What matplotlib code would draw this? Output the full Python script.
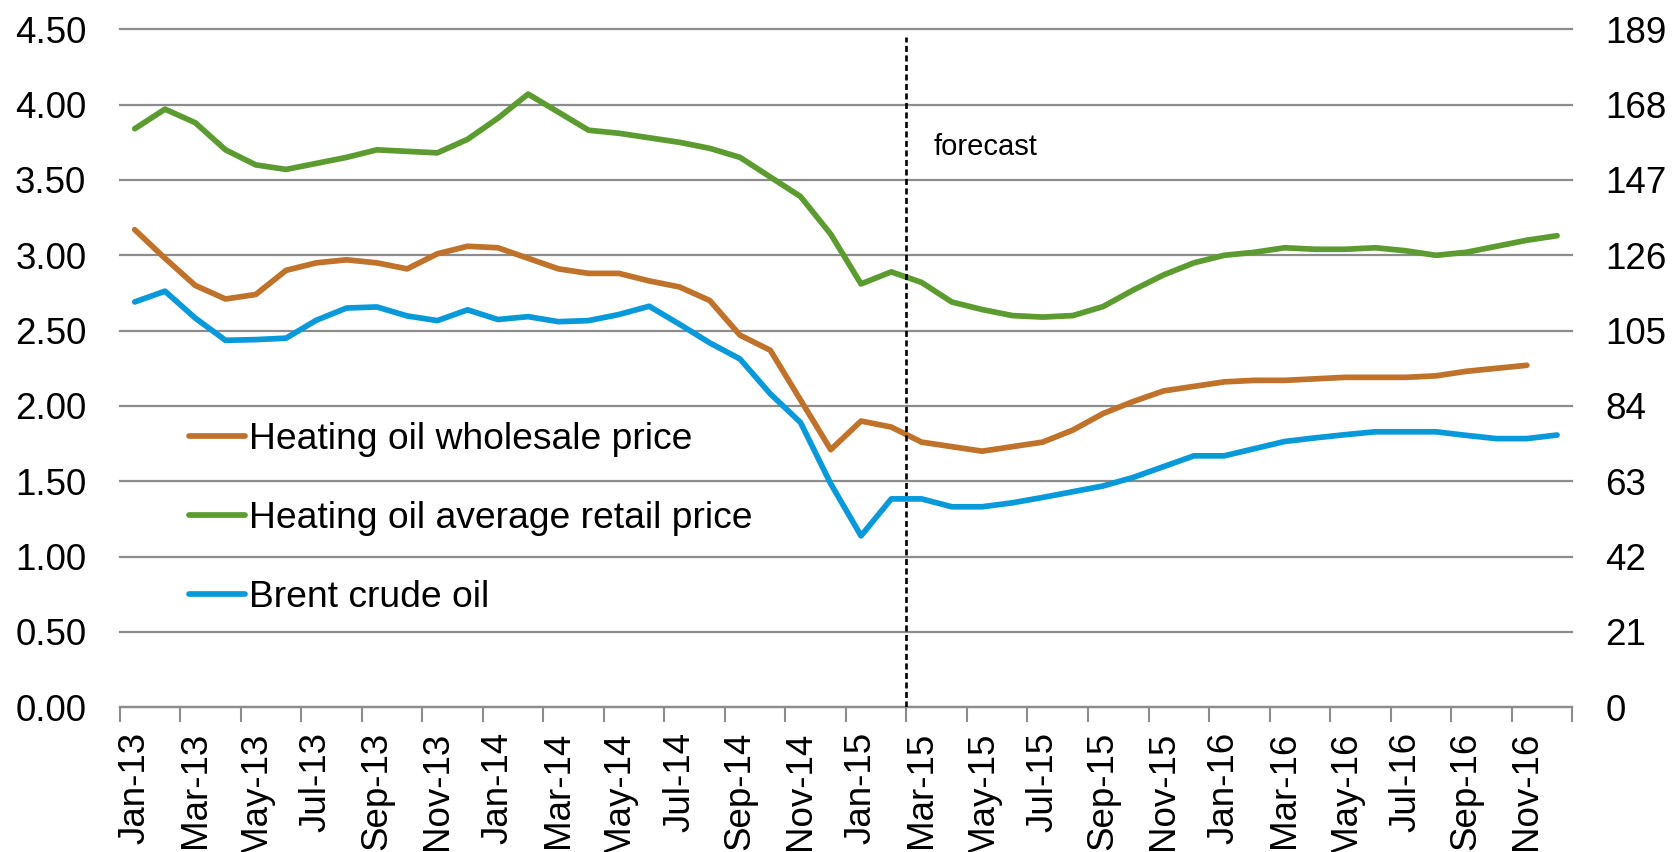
import numpy as np
import matplotlib
matplotlib.use("Agg")
import matplotlib.pyplot as plt

plt.rcParams['font.family'] = ['Liberation Sans', 'DejaVu Sans']

months = ["Jan-13", "Feb-13", "Mar-13", "Apr-13", "May-13", "Jun-13", "Jul-13", "Aug-13",
          "Sep-13", "Oct-13", "Nov-13", "Dec-13", "Jan-14", "Feb-14", "Mar-14", "Apr-14",
          "May-14", "Jun-14", "Jul-14", "Aug-14", "Sep-14", "Oct-14", "Nov-14", "Dec-14",
          "Jan-15", "Feb-15", "Mar-15", "Apr-15", "May-15", "Jun-15", "Jul-15", "Aug-15",
          "Sep-15", "Oct-15", "Nov-15", "Dec-15", "Jan-16", "Feb-16", "Mar-16", "Apr-16",
          "May-16", "Jun-16", "Jul-16", "Aug-16", "Sep-16", "Oct-16", "Nov-16", "Dec-16"]

# $/gallon (left axis)
wholesale = [3.17, 2.98, 2.80, 2.71, 2.74, 2.90, 2.95, 2.97, 2.95, 2.91, 3.01, 3.06,
             3.05, 2.98, 2.91, 2.88, 2.88, 2.83, 2.79, 2.70, 2.47, 2.37, 2.04, 1.71,
             1.90, 1.86, 1.76, 1.73, 1.70, 1.73, 1.76, 1.84, 1.95, 2.03, 2.10, 2.13,
             2.16, 2.17, 2.17, 2.18, 2.19, 2.19, 2.19, 2.20, 2.23, 2.25, 2.27, None]
retail = [3.84, 3.97, 3.88, 3.70, 3.60, 3.57, 3.61, 3.65, 3.70, 3.69, 3.68, 3.77,
          3.91, 4.07, 3.95, 3.83, 3.81, 3.78, 3.75, 3.71, 3.65, 3.52, 3.39, 3.14,
          2.81, 2.89, 2.82, 2.69, 2.64, 2.60, 2.59, 2.60, 2.66, 2.77, 2.87, 2.95,
          3.00, 3.02, 3.05, 3.04, 3.04, 3.05, 3.03, 3.00, 3.02, 3.06, 3.10, 3.13]
# $/barrel (right axis)
brent = [113.0, 116.0, 108.5, 102.3, 102.5, 102.9, 107.9, 111.3, 111.6, 109.1, 107.8, 110.8,
         108.1, 108.9, 107.5, 107.8, 109.5, 111.8, 106.8, 101.6, 97.1, 87.4, 79.4, 62.3,
         47.8, 58.1, 58.1, 55.9, 55.9, 57.0, 58.5, 60.1, 61.7, 64.1, 67.1, 70.1,
         70.1, 72.1, 74.1, 75.1, 76.0, 76.8, 76.8, 76.8, 75.8, 74.9, 74.9, 75.9]

left_ticks = [0.0, 0.5, 1.0, 1.5, 2.0, 2.5, 3.0, 3.5, 4.0, 4.5]
right_ticks = [0, 21, 42, 63, 84, 105, 126, 147, 168, 189]
forecast_start = 26  # boundary before Mar-15

c_whole = "#C0712A"
c_retail = "#5B9B2F"
c_brent = "#0899DA"
grid_c = "#8C8C8C"

fig = plt.figure(figsize=(16.76, 8.52), dpi=100)
ax = fig.add_axes([119.6/1676, 1 - 707.3/852, 1452.6/1676, 678.0/852])
ax2 = ax.twinx()

n = len(months)
x = np.arange(n) + 0.5
wh = np.array([np.nan if v is None else v for v in wholesale], dtype=float)

LW = 4.1
l1, = ax.plot(x, wh, color=c_whole, lw=LW, solid_capstyle='round', solid_joinstyle='round',
              label="Heating oil wholesale price", zorder=3)
l2, = ax.plot(x, retail, color=c_retail, lw=LW, solid_capstyle='round', solid_joinstyle='round',
              label="Heating oil average retail price", zorder=3)
l3, = ax2.plot(x, brent, color=c_brent, lw=LW, solid_capstyle='round', solid_joinstyle='round',
               label="Brent crude oil", zorder=3)

ax.set_xlim(0, n)
ax.set_ylim(0, 4.5)
ax2.set_ylim(0, 189)

for yv in left_ticks:
    ax.axhline(yv, color=grid_c, lw=1.6, zorder=1, clip_on=False)

ax.plot([forecast_start, forecast_start], [0, 4.45], color="black", lw=1.9,
        linestyle=(0, (2.3, 1.3)), zorder=4)
ax.text(26.9, 3.72, "forecast", fontsize=21, ha='left', va='center')

ax.set_yticks(left_ticks)
ax.set_yticklabels([f"{v:.2f}" for v in left_ticks])
ax.tick_params(axis='y', length=0, pad=24, labelsize=26.5)
ax2.set_yticks(right_ticks)
ax2.set_yticklabels([str(v) for v in right_ticks])
ax2.tick_params(axis='y', length=0, pad=24, labelsize=26.5)

ax.set_xticks(np.arange(0, n + 1, 2))
ax.set_xticklabels([])
ax.set_xticks(x[::2], minor=True)
ax.set_xticklabels(months[::2], minor=True, rotation=90)
ax.tick_params(axis='x', which='major', length=11, width=1.5, color=grid_c)
ax.tick_params(axis='x', which='minor', length=0, pad=17.5, labelsize=26.5)

for a in (ax, ax2):
    for s in ('top', 'left', 'right', 'bottom'):
        a.spines[s].set_visible(False)
ax.spines['bottom'].set_visible(True)
ax.spines['bottom'].set_color(grid_c)
ax.spines['bottom'].set_linewidth(1.6)

leg = ax.legend(handles=[l1, l2, l3], loc='center left',
                bbox_to_anchor=((189 - 119.6) / 1452.6, (707.3 - 518.5) / 678.0),
                frameon=False, fontsize=26.8, handlelength=1.5, handletextpad=0.12,
                labelspacing=1.18, borderpad=0, borderaxespad=0)

fig.savefig("out.png", dpi=100)
